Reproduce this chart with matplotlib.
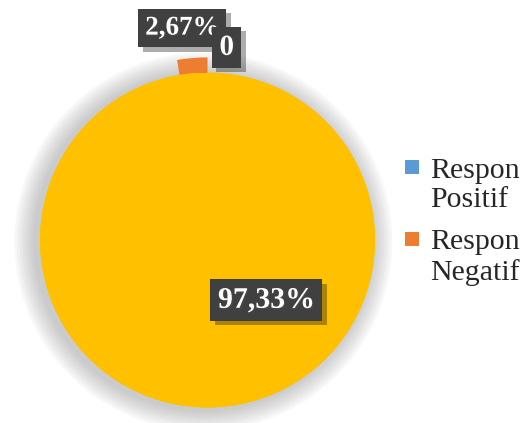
import matplotlib.pyplot as plt
import matplotlib.patheffects as pe
from matplotlib.patches import Patch, Circle

labels = ['Respon Positif', 'Respon Negatif', 'Lainnya']
values = [0, 2.67, 97.33]
colors = ['#5B9BD5', '#ED7D31', '#FFC000']
label_texts = ['0', '2,67%', '97,33%']
label_pos = [(0.115, 1.15), (-0.15, 1.265), (0.352, -0.36)]
label_sizes = [21, 19.5, 21.5]

plt.rcParams['font.family'] = ['Liberation Serif', 'DejaVu Serif']

fig = plt.figure(figsize=(5.22, 4.23), dpi=100)
cx, cy, r = 207.5, 240, 167.5
ax = fig.add_axes([(cx - r) / 522, (423 - cy - r) / 423, 2 * r / 522, 2 * r / 423])
ax.set_xlim(-1, 1)
ax.set_ylim(-1, 1)
ax.set_aspect('equal')

# soft shadow round the pie
for k in range(8):
    ax.add_patch(Circle((-0.025, -0.01), 1.0 + 0.016 * (k + 1), facecolor='#808080',
                        edgecolor='none', alpha=0.06, zorder=0, clip_on=False))
# yellow disc under the slices, so the raised orange slice shows only outside
ax.add_patch(Circle((0, 0), 1.0, facecolor=colors[2], edgecolor='none', zorder=0.8))

wedges, _ = ax.pie(values, colors=colors, startangle=90, counterclock=True,
                   frame=True)
ax.axis('off')
wedges[1].set_radius(1.09)
wedges[1].set_zorder(0.5)
wedges[2].set_zorder(1)
for w in wedges:
    w.set_clip_on(False)

order = [1, 0, 2]
for i in order:
    x, y = label_pos[i]
    t = ax.text(x, y, label_texts[i], ha='center', va='center', color='white',
                fontsize=label_sizes[i], fontweight='bold', zorder=5,
                bbox=dict(boxstyle='square,pad=0.25', facecolor='#404040', edgecolor='none'))
    t.set_path_effects([pe.withSimplePatchShadow(offset=(1, -1), alpha=0.5)])
    t.get_bbox_patch().set_path_effects([pe.SimplePatchShadow(offset=(3, -3), alpha=0.35), pe.Normal()])

handles = [Patch(facecolor=colors[0]), Patch(facecolor=colors[1])]
leg = fig.legend(handles, ['Respon\nPositif', 'Respon\nNegatif'], loc='upper left',
                 bbox_to_anchor=(405 / 522, 1 - 158 / 423), frameon=False,
                 fontsize=21.5, handlelength=0.47, handleheight=0.37, handletextpad=0.37,
                 labelspacing=0.54, labelcolor='#262626', borderpad=0, borderaxespad=0)
for txt in leg.get_texts():
    txt.set_linespacing(1.165)
for p in leg.get_patches():
    p.set_y(p.get_y() + 13)

fig.savefig('out.png', dpi=100)
